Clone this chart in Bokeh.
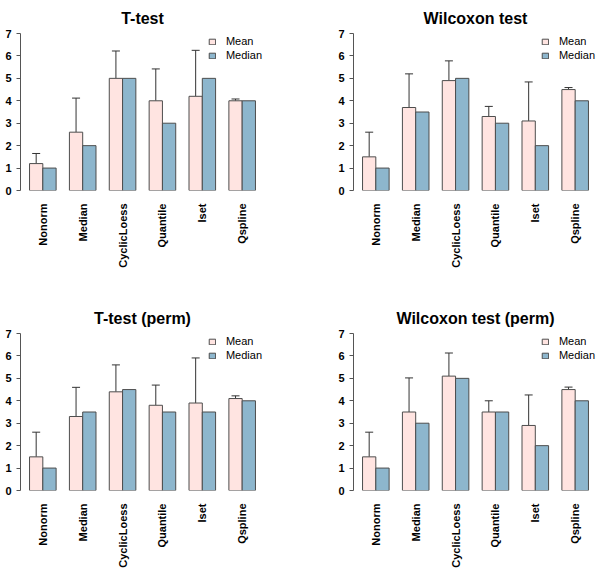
import math
from bokeh.plotting import figure
from bokeh.models import (Range1d, FixedTicker, ColumnDataSource, Whisker, TeeHead,
                          Legend, LegendItem)
from bokeh.layouts import gridplot
from bokeh.embed import file_html
from bokeh.resources import INLINE

categories = ["Nonorm", "Median", "CyclicLoess", "Quantile", "Iset", "Qspline"]
series_labels = ["Mean", "Median"]
y_ticks = [0, 1, 2, 3, 4, 5, 6, 7]

ttest_mean = [1.2, 2.6, 5.0, 4.0, 4.2, 4.0]
ttest_upper = [1.65, 4.12, 6.22, 5.42, 6.25, 4.08]
ttest_median = [1.0, 2.0, 5.0, 3.0, 5.0, 4.0]

wilcox_mean = [1.5, 3.7, 4.9, 3.3, 3.1, 4.5]
wilcox_upper = [2.6, 5.2, 5.78, 3.75, 4.84, 4.59]
wilcox_median = [1.0, 3.5, 5.0, 3.0, 2.0, 4.0]

ttest_perm_mean = [1.5, 3.3, 4.4, 3.8, 3.9, 4.1]
ttest_perm_upper = [2.6, 4.6, 5.6, 4.7, 5.91, 4.22]
ttest_perm_median = [1.0, 3.5, 4.5, 3.5, 3.5, 4.0]

wilcox_perm_mean = [1.5, 3.5, 5.1, 3.5, 2.9, 4.5]
wilcox_perm_upper = [2.6, 5.02, 6.13, 4.0, 4.26, 4.61]
wilcox_perm_median = [1.0, 3.0, 5.0, 3.5, 2.0, 4.0]

FONT = "Liberation Sans"
MEAN_COLOR = "#FFE4E1"
MEDIAN_COLOR = "#8DB6CD"
EDGE = "#4D4D4D"


def panel(title, mean, upper, median, width, height, bl, br, bt, bb):
    n = len(categories)
    xm = [3 * i + 1.5 for i in range(n)]
    xd = [3 * i + 2.5 for i in range(n)]
    xc = [3 * i + 2 for i in range(n)]
    src = ColumnDataSource(dict(xm=xm, xd=xd, mean=mean, median=median, upper=upper))

    p = figure(width=width, height=height, x_range=Range1d(0.32, 18.68),
               y_range=Range1d(0, 7), output_backend="svg", toolbar_location=None,
               min_border_left=bl, min_border_right=br, min_border_top=bt,
               min_border_bottom=bb, outline_line_color=None)
    p.grid.visible = False
    p.background_fill_color = "white"

    rm = p.vbar(x="xm", top="mean", bottom=0, width=1, source=src,
                fill_color=MEAN_COLOR, line_color=EDGE, line_width=1)
    rd = p.vbar(x="xd", top="median", bottom=0, width=1, source=src,
                fill_color=MEDIAN_COLOR, line_color=EDGE, line_width=1)

    p.add_layout(Whisker(source=src, base="xm", lower="mean", upper="upper",
                         line_color="#333333", line_width=1,
                         upper_head=TeeHead(size=8, line_color="#333333", line_width=1),
                         lower_head=None))

    p.title.text = title
    p.title.align = "center"
    p.title.text_font = FONT
    p.title.text_font_size = "16px"
    p.title.text_font_style = "bold"
    p.title.text_color = "black"
    p.title.standoff = 13

    xa = p.xaxis[0]
    xa.ticker = FixedTicker(ticks=xc)
    xa.major_label_overrides = {x: c for x, c in zip(xc, categories)}
    xa.major_label_orientation = math.pi / 2
    xa.axis_line_color = None
    xa.major_tick_line_color = None
    xa.minor_tick_line_color = None
    xa.major_label_standoff = 7
    xa.major_label_text_font = FONT
    xa.major_label_text_font_size = "11px"
    xa.major_label_text_font_style = "bold"
    xa.major_label_text_color = "black"

    ya = p.yaxis[0]
    ya.ticker = FixedTicker(ticks=y_ticks)
    ya.axis_line_color = "#555555"
    ya.major_tick_line_color = "#555555"
    ya.major_tick_in = 0
    ya.major_tick_out = 4
    ya.minor_tick_line_color = None
    ya.major_label_standoff = 5
    ya.major_label_text_font = FONT
    ya.major_label_text_font_size = "11px"
    ya.major_label_text_font_style = "bold"
    ya.major_label_text_color = "black"

    legend = Legend(items=[LegendItem(label=series_labels[0], renderers=[rm]),
                           LegendItem(label=series_labels[1], renderers=[rd])],
                    location="top_right", border_line_color=None,
                    background_fill_alpha=0, glyph_width=8, glyph_height=7,
                    label_text_font=FONT, label_text_font_size="11px",
                    label_text_color="black",
                    label_standoff=10, spacing=2, padding=3, margin=2,
                    label_height=11)
    p.add_layout(legend)
    return p


p1 = panel("T-test", ttest_mean, ttest_upper, ttest_median, 300, 300, 20, 36, 33, 110)
p2 = panel("Wilcoxon test", wilcox_mean, wilcox_upper, wilcox_median, 300, 300, 53, 3, 33, 110)
p3 = panel("T-test (perm)", ttest_perm_mean, ttest_perm_upper, ttest_perm_median, 300, 270, 20, 36, 33, 80)
p4 = panel("Wilcoxon test (perm)", wilcox_perm_mean, wilcox_perm_upper, wilcox_perm_median, 300, 270, 53, 3, 33, 80)

grid = gridplot([[p1, p2], [p3, p4]], toolbar_location=None)

open("out.html", "w").write(file_html(grid, INLINE))
